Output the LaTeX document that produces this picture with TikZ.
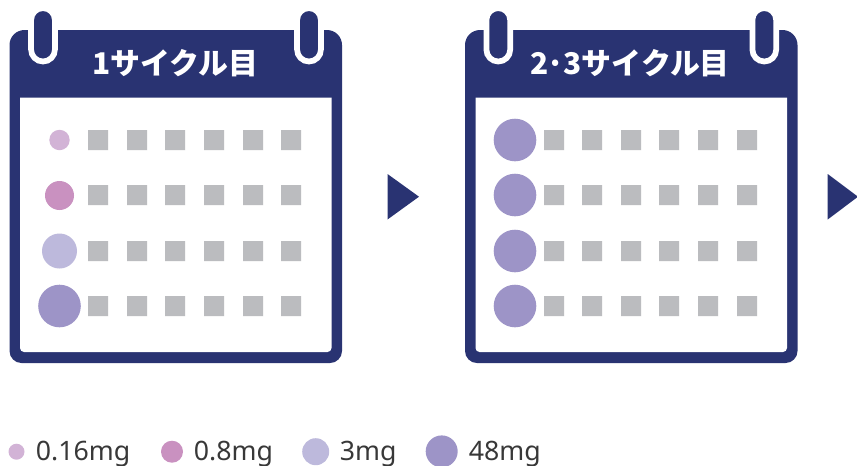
\documentclass[tikz,border=0pt]{standalone}
\usepackage{fontspec}
\usepackage{xcolor}
\setmainfont{Noto Sans CJK JP}
\newfontfamily\legendfont{Noto Sans}
\definecolor{navyband}{HTML}{293372}
\definecolor{greybox}{HTML}{BBBCBF}
\definecolor{doseA}{HTML}{D2B3D6}
\definecolor{doseB}{HTML}{C991C0}
\definecolor{doseC}{HTML}{BDB9DC}
\definecolor{doseD}{HTML}{9D94C7}
\begin{document}
\begin{tikzpicture}[x=0.2mm,y=0.2mm]
\tikzstyle{every node}+=[inner sep=0pt]
\tikzstyle{title}=[text=white,font=\fontsize{17pt}{18pt}\bfseries]
\tikzstyle{legend}=[text=black!78,font=\fontsize{15.2pt}{16pt}\legendfont,anchor=base west]
\tikzstyle{ring}=[fill=navyband,draw=white,line width=3.25pt]
\useasboundingbox (0,0) rectangle (857,-465);
% first calendar
\fill [navyband] (9.5,-45) arc (180:90:15) -- (327,-30) arc (90:0:15) -- (342,-351) arc (0:-90:12) -- (21.5,-363) arc (270:180:12) -- cycle;
\fill [white] (20,-97.5) -- (331.5,-97.5) -- (331.5,-348) arc (0:-90:4) -- (24,-352) arc (270:180:4) -- cycle;
\draw [ring] (31.1,-20) arc (180:0:11.9) -- (54.9,-49.6) arc (0:-180:11.9) -- cycle;
\draw [ring] (297.1,-20) arc (180:0:11.9) -- (320.9,-49.6) arc (0:-180:11.9) -- cycle;
\node [title] (title1) at (175.5,-63.5) {1サイクル目};
\fill [doseA] (59.5,-140) circle (10.2);
\fill [doseB] (59.5,-195.5) circle (14.5);
\fill [doseC] (59.5,-251) circle (17.5);
\fill [doseD] (59.5,-306) circle (21.3);
\fill [greybox] (88,-130) rectangle +(20,-20) (127,-130) rectangle +(20,-20) (165,-130) rectangle +(20,-20) (204,-130) rectangle +(20,-20) (243,-130) rectangle +(20,-20) (281,-130) rectangle +(20,-20);
\fill [greybox] (88,-185) rectangle +(20,-20) (127,-185) rectangle +(20,-20) (165,-185) rectangle +(20,-20) (204,-185) rectangle +(20,-20) (243,-185) rectangle +(20,-20) (281,-185) rectangle +(20,-20);
\fill [greybox] (88,-241) rectangle +(20,-20) (127,-241) rectangle +(20,-20) (165,-241) rectangle +(20,-20) (204,-241) rectangle +(20,-20) (243,-241) rectangle +(20,-20) (281,-241) rectangle +(20,-20);
\fill [greybox] (88,-296) rectangle +(20,-20) (127,-296) rectangle +(20,-20) (165,-296) rectangle +(20,-20) (204,-296) rectangle +(20,-20) (243,-296) rectangle +(20,-20) (281,-296) rectangle +(20,-20);
% arrows
\fill [navyband] (387.5,-174) -- (419,-196.7) -- (387.5,-219.5) -- cycle;
\fill [navyband] (827.7,-174) -- (858,-196.7) -- (827.7,-219.5) -- cycle;
% second calendar
\fill [navyband] (465,-45) arc (180:90:15) -- (782.5,-30) arc (90:0:15) -- (797.5,-351) arc (0:-90:12) -- (477,-363) arc (270:180:12) -- cycle;
\fill [white] (475.5,-97.5) -- (787,-97.5) -- (787,-348) arc (0:-90:4) -- (479.5,-352) arc (270:180:4) -- cycle;
\draw [ring] (486.4,-20) arc (180:0:11.9) -- (510.2,-49.6) arc (0:-180:11.9) -- cycle;
\draw [ring] (752.4,-20) arc (180:0:11.9) -- (776.2,-49.6) arc (0:-180:11.9) -- cycle;
\node [title] (title2) at (630,-63.5) {2\kern-0.8pt·\kern-0.8pt3サイクル目};
\fill [doseD] (515,-140) circle (21.3);
\fill [doseD] (515,-195) circle (21.3);
\fill [doseD] (515,-251) circle (21.3);
\fill [doseD] (515,-306) circle (21.3);
\fill [greybox] (544,-130) rectangle +(20,-20) (582,-130) rectangle +(20,-20) (621,-130) rectangle +(20,-20) (659,-130) rectangle +(20,-20) (698,-130) rectangle +(20,-20) (737,-130) rectangle +(20,-20);
\fill [greybox] (544,-185) rectangle +(20,-20) (582,-185) rectangle +(20,-20) (621,-185) rectangle +(20,-20) (659,-185) rectangle +(20,-20) (698,-185) rectangle +(20,-20) (737,-185) rectangle +(20,-20);
\fill [greybox] (544,-241) rectangle +(20,-20) (582,-241) rectangle +(20,-20) (621,-241) rectangle +(20,-20) (659,-241) rectangle +(20,-20) (698,-241) rectangle +(20,-20) (737,-241) rectangle +(20,-20);
\fill [greybox] (544,-296) rectangle +(20,-20) (582,-296) rectangle +(20,-20) (621,-296) rectangle +(20,-20) (659,-296) rectangle +(20,-20) (698,-296) rectangle +(20,-20) (737,-296) rectangle +(20,-20);
% legend
\fill [doseA] (16.5,-451.7) circle (8);
\node [legend] (leg1) at (35.5,-460) {0.16mg};
\fill [doseB] (172,-451.7) circle (11);
\node [legend] (leg2) at (193.5,-460) {0.8mg};
\fill [doseC] (315.7,-451.7) circle (13.5);
\node [legend] (leg3) at (339.5,-460) {3mg};
\fill [doseD] (441.7,-451.4) circle (16);
\node [legend] (leg4) at (468.5,-460) {48mg};
\end{tikzpicture}
\end{document}
